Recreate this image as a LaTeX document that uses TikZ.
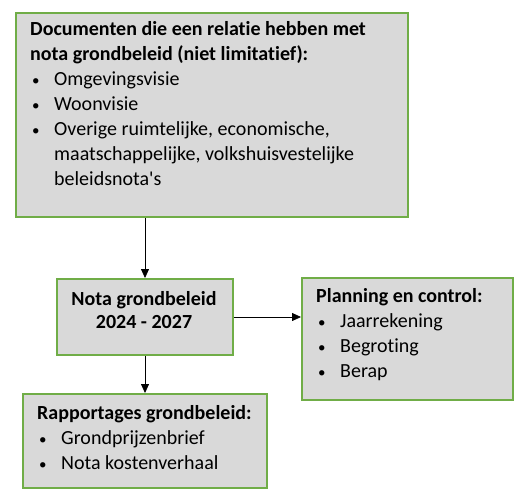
\documentclass[tikz,border=0pt]{standalone}
\usepackage{fontspec}
\setmainfont{Carlito}[Ligatures=CommonOff]
\usetikzlibrary{arrows.meta}
\definecolor{boxgreen}{HTML}{70AD47}
\definecolor{boxgray}{HTML}{D9D9D9}
\newcommand{\itm}{\hspace*{2bp}\makebox[22bp][l]{\scalebox{0.75}{\textbullet}}}
\newcommand{\cnt}{\hspace*{24bp}}
\begin{document}
\begin{tikzpicture}[x=1bp, y=1bp, font=\fontsize{20bp}{25bp}\selectfont]
    \tikzset{
      box/.style={draw=boxgreen, fill=boxgray, line width=2bp,
                  anchor=north west, inner sep=0pt},
      % base anchor = baseline of the last line
      txt/.style={anchor=base west, align=left, inner sep=0pt},
      link/.style={-{Triangle[length=9bp,width=8bp]}, line width=0.8bp},
    }
    \useasboundingbox (0,0) rectangle (531,-497);

    \node[box, minimum width=392bp, minimum height=204bp] (docs) at (15,-12) {};
    \node[box, minimum width=176bp, minimum height=76bp]  (nota) at (56,-278) {};
    \node[box, minimum width=211bp, minimum height=122bp] (plan) at (301,-277) {};
    \node[box, minimum width=244bp, minimum height=94bp]  (rapp) at (22,-393) {};

    \node[txt] (docstxt) at (30,-186) {\textbf{Documenten die een relatie hebben met}\\
      \textbf{nota grondbeleid (niet limitatief):}\\
      \itm Omgevingsvisie\\
      \itm Woonvisie\\
      \itm Overige ruimtelijke, economische,\\
      \cnt maatschappelijke, volkshuisvestelijke\\
      \cnt beleidsnota\textquotesingle s};
    \node[anchor=base, align=center, inner sep=0pt, font=\fontsize{20bp}{23bp}\selectfont\bfseries]
      (notatxt) at (144,-328) {Nota grondbeleid\\2024 - 2027};
    \node[txt] (plantxt) at (316,-377) {\textbf{Planning en control:}\\
      \itm Jaarrekening\\
      \itm Begroting\\
      \itm Berap};
    \node[txt] (rapptxt) at (37,-469) {\textbf{Rapportages grondbeleid:}\\
      \itm Grondprijzenbrief\\
      \itm Nota kostenverhaal};

    \draw[link] (docs.south -| nota.north) -- (nota.north);
    \draw[link] (nota.east) -- (plan.west |- nota.east);
    \draw[link] (nota.south) -- (rapp.north -| nota.south);
  \end{tikzpicture}
\end{document}
